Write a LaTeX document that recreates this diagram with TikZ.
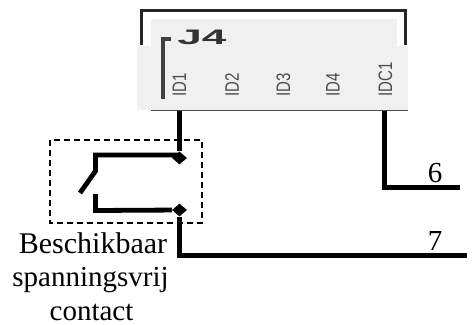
\documentclass[tikz,border=0pt]{standalone}
\usepackage{fontspec}
\setmainfont{Liberation Serif}
\setsansfont{Liberation Sans}
\usetikzlibrary{arrows, positioning, shapes.geometric}

\begin{document}
\begin{tikzpicture}[x=1pt, y=-1pt]
	\tikzstyle{Panel} = [rectangle, draw=none, fill=black!6, inner sep=0pt]
	\tikzstyle{PinName} = [font=\sffamily\fontsize{15}{15}\selectfont, rotate=90, yscale=1.3, anchor=west, inner sep=0pt, text=black!70]
	\tikzstyle{Caption} = [font=\fontsize{29}{29}\selectfont, inner sep=0pt, anchor=base]
	\tikzstyle{Junction} = [diamond, fill=black, inner sep=0pt, minimum width=15pt, minimum height=13pt]
	\tikzstyle{wire} = [line width=4.8pt]
	\tikzstyle{frameLine} = [line width=3pt, black!85]
	
	\useasboundingbox (0,0) rectangle (473,324);
	
	\fill[Panel] (151,19) rectangle (397,46);
	\node (panel) [Panel, minimum width=271pt, minimum height=64pt] at (272.5,78) {};
	\draw[frameLine] (141,45) -- (141,10.5) -- (405.5,10.5) -- (405.5,45);
	\draw[line width=1pt, black!70] (151,110.5) -- (408,110.5);
	
	\node (connName) [font=\sffamily\bfseries\fontsize{21}{21}\selectfont, xscale=2.1, text=black!80, inner sep=0pt] at (202,37) {J4};
	\draw[line width=4pt, black!75] (163,99) -- (163,39) -- (171,39);
	
	\node (pinA) [PinName] at (179.5,97) {ID1};
	\node (pinB) [PinName] at (232,97) {ID2};
	\node (pinC) [PinName] at (283.5,97) {ID3};
	\node (pinD) [PinName] at (333,97) {ID4};
	\node (pinE) [PinName] at (385.5,97) {IDC1};
	
	\coordinate (pinOut) at (179.5,111);
	\coordinate (pinEOut) at (384.5,111);
	\coordinate (bendSix) at (384.5,187.5);
	\coordinate (endSix) at (460,187.5);
	\coordinate (bendSeven) at (179.5,255.5);
	\coordinate (endSeven) at (467,255.5);
	\node (topJoint) [Junction] at (179.5,158) {};
	\node (lowJoint) [Junction] at (179.5,210) {};
	\coordinate (topCorner) at (179.5,155);
	\coordinate (topBend) at (95.5,155);
	\coordinate (topEnd) at (95.5,171);
	\coordinate (lowBend) at (95.5,210.5);
	\coordinate (lowEnd) at (95.5,194);
	\coordinate (bladeEnd) at (80,193);
	
	\draw[wire] (pinOut) -- (topJoint);
	\draw[wire] (topCorner) -- (topBend) -- (topEnd) -- (bladeEnd);
	\draw[wire] (lowEnd) -- (lowBend) -- (lowJoint);
	\draw[wire] (lowJoint) -- (bendSeven) -- (endSeven);
	\draw[wire] (pinEOut) -- (bendSix) -- (endSix);
	
	\draw[line width=1.3pt, dash pattern=on 6pt off 4pt] (50,140) rectangle (202,223);
	
	\node (six) [Caption] at (435,182) {6};
	\node (seven) [Caption] at (435,250) {7};
	\node (capA) [Caption, font=\fontsize{30}{30}\selectfont] at (93,253) {Beschikbaar};
	\node (capB) [Caption] at (90.5,286) {spanningsvrij};
	\node (capC) [Caption] at (91.5,320) {contact};
\end{tikzpicture}
\end{document}
